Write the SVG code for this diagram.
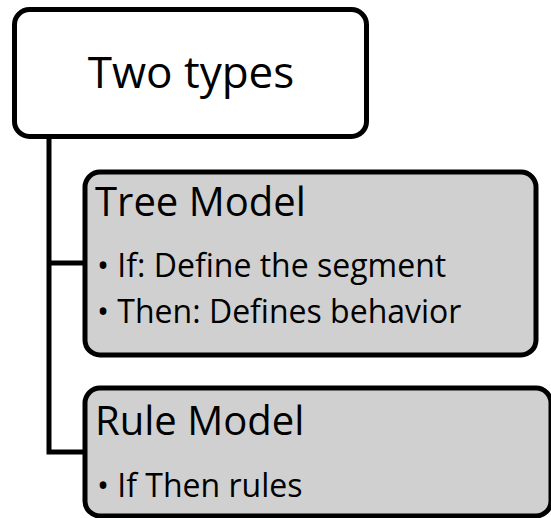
<svg xmlns="http://www.w3.org/2000/svg" width="551" height="518" viewBox="0 0 551 518">
  <style>
    .box { stroke: #000; stroke-width: 5; }
    .root { fill: #fff; }
    .child { fill: #d0d0d0; }
    .wire { fill: none; stroke: #000; stroke-width: 5; }
    text { font-family: "Open Sans", "Liberation Sans", sans-serif; fill: #000; }
    .t1 { font-size: 44px; }
    .t2 { font-size: 40px; }
    .t3 { font-size: 32px; }
  </style>
  <!-- elbow connectors from the root down to each child -->
  <g id="connectors">
    <path class="wire" d="M49,137 V452 H85 M49,263 H85"/>
  </g>
  <g id="root">
    <rect class="box root" x="14.5" y="9.5" width="352" height="127" rx="15"/>
    <text class="t1" x="191" y="88" text-anchor="middle">Two types</text>
  </g>
  <g id="tree-model">
    <rect class="box child" x="85" y="172" width="451" height="183" rx="15"/>
    <text class="t2" x="95" y="216">Tree Model</text>
    <text class="t3" x="97" y="277">• If: Define the segment</text>
    <text class="t3" x="97" y="323">• Then: Defines behavior</text>
  </g>
  <g id="rule-model">
    <rect class="box child" x="85" y="388" width="466" height="128" rx="15"/>
    <text class="t2" x="95" y="435">Rule Model</text>
    <text class="t3" x="97" y="497">• If Then rules</text>
  </g>
</svg>
